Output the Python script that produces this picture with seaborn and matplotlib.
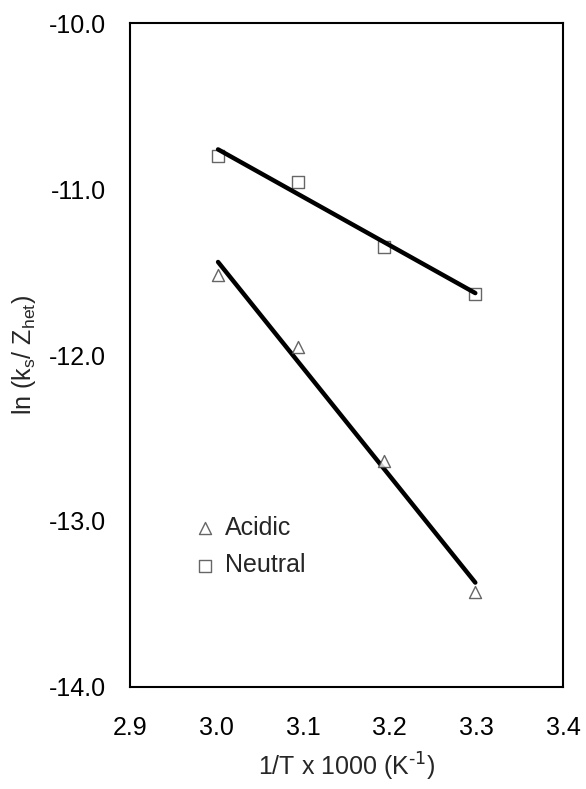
import numpy as np
import pandas as pd
import seaborn as sns
import matplotlib
matplotlib.use("Agg")
import matplotlib.pyplot as plt

# data (x = 1000/T for 60, 50, 40, 30 C)
inv_T = [3.0017, 3.0945, 3.1934, 3.2987]
acidic = [-11.52, -11.95, -12.64, -13.43]
neutral = [-10.80, -10.96, -11.35, -11.63]

x_ticks = [2.9, 3.0, 3.1, 3.2, 3.3, 3.4]
y_ticks = [-14.0, -13.0, -12.0, -11.0, -10.0]

df_acid = pd.DataFrame({"x": inv_T, "y": acidic})
df_neut = pd.DataFrame({"x": inv_T, "y": neutral})

sns.set_style("white")
plt.rcParams["font.family"] = ["Liberation Sans", "DejaVu Sans"]
plt.rcParams["axes.unicode_minus"] = False
plt.rcParams["mathtext.default"] = "regular"

fig, ax = plt.subplots(figsize=(5.86, 7.89), dpi=100)
fig.subplots_adjust(left=0.2218, right=0.9608, top=0.9708, bottom=0.1293)

sns.regplot(data=df_acid, x="x", y="y", ax=ax, ci=None, marker="^",
            label="Acidic", truncate=True,
            scatter_kws=dict(s=75, facecolor="white", edgecolor="#404040",
                             linewidths=1.0, zorder=3),
            line_kws=dict(color="black", lw=3.2, zorder=2))
sns.regplot(data=df_neut, x="x", y="y", ax=ax, ci=None, marker="s",
            label="Neutral", truncate=True,
            scatter_kws=dict(s=75, facecolor="white", edgecolor="#404040",
                             linewidths=1.0, zorder=3),
            line_kws=dict(color="black", lw=3.2, zorder=4))

ax.set_xlim(2.9, 3.4)
ax.set_ylim(-14.0, -10.0)
ax.set_xticks(x_ticks)
ax.set_xticklabels([f"{v:.1f}" for v in x_ticks])
ax.set_yticks(y_ticks)
ax.set_yticklabels([f"{v:.1f}" for v in y_ticks])

for sp in ax.spines.values():
    sp.set_visible(True)
    sp.set_color("black")
    sp.set_linewidth(1.5)

ax.tick_params(axis="both", direction="out", length=5, width=1.5,
               colors="black", labelsize=18)
ax.tick_params(axis="x", pad=16)
ax.tick_params(axis="y", pad=12)

ax.set_xlabel(r"1/T x 1000 (K$^{\text{-1}}$)", fontsize=18, labelpad=8)
ax.set_ylabel("ln (k$_{s}$/ Z$_{het}$)", fontsize=18, labelpad=8)

leg = ax.legend(loc="upper left", bbox_to_anchor=(0.150, 0.258),
                frameon=False, fontsize=18, handlelength=0.8,
                handletextpad=0.4, labelspacing=0.55, borderpad=0,
                borderaxespad=0, markerscale=1.0)

fig.savefig("out.png", dpi=100)
